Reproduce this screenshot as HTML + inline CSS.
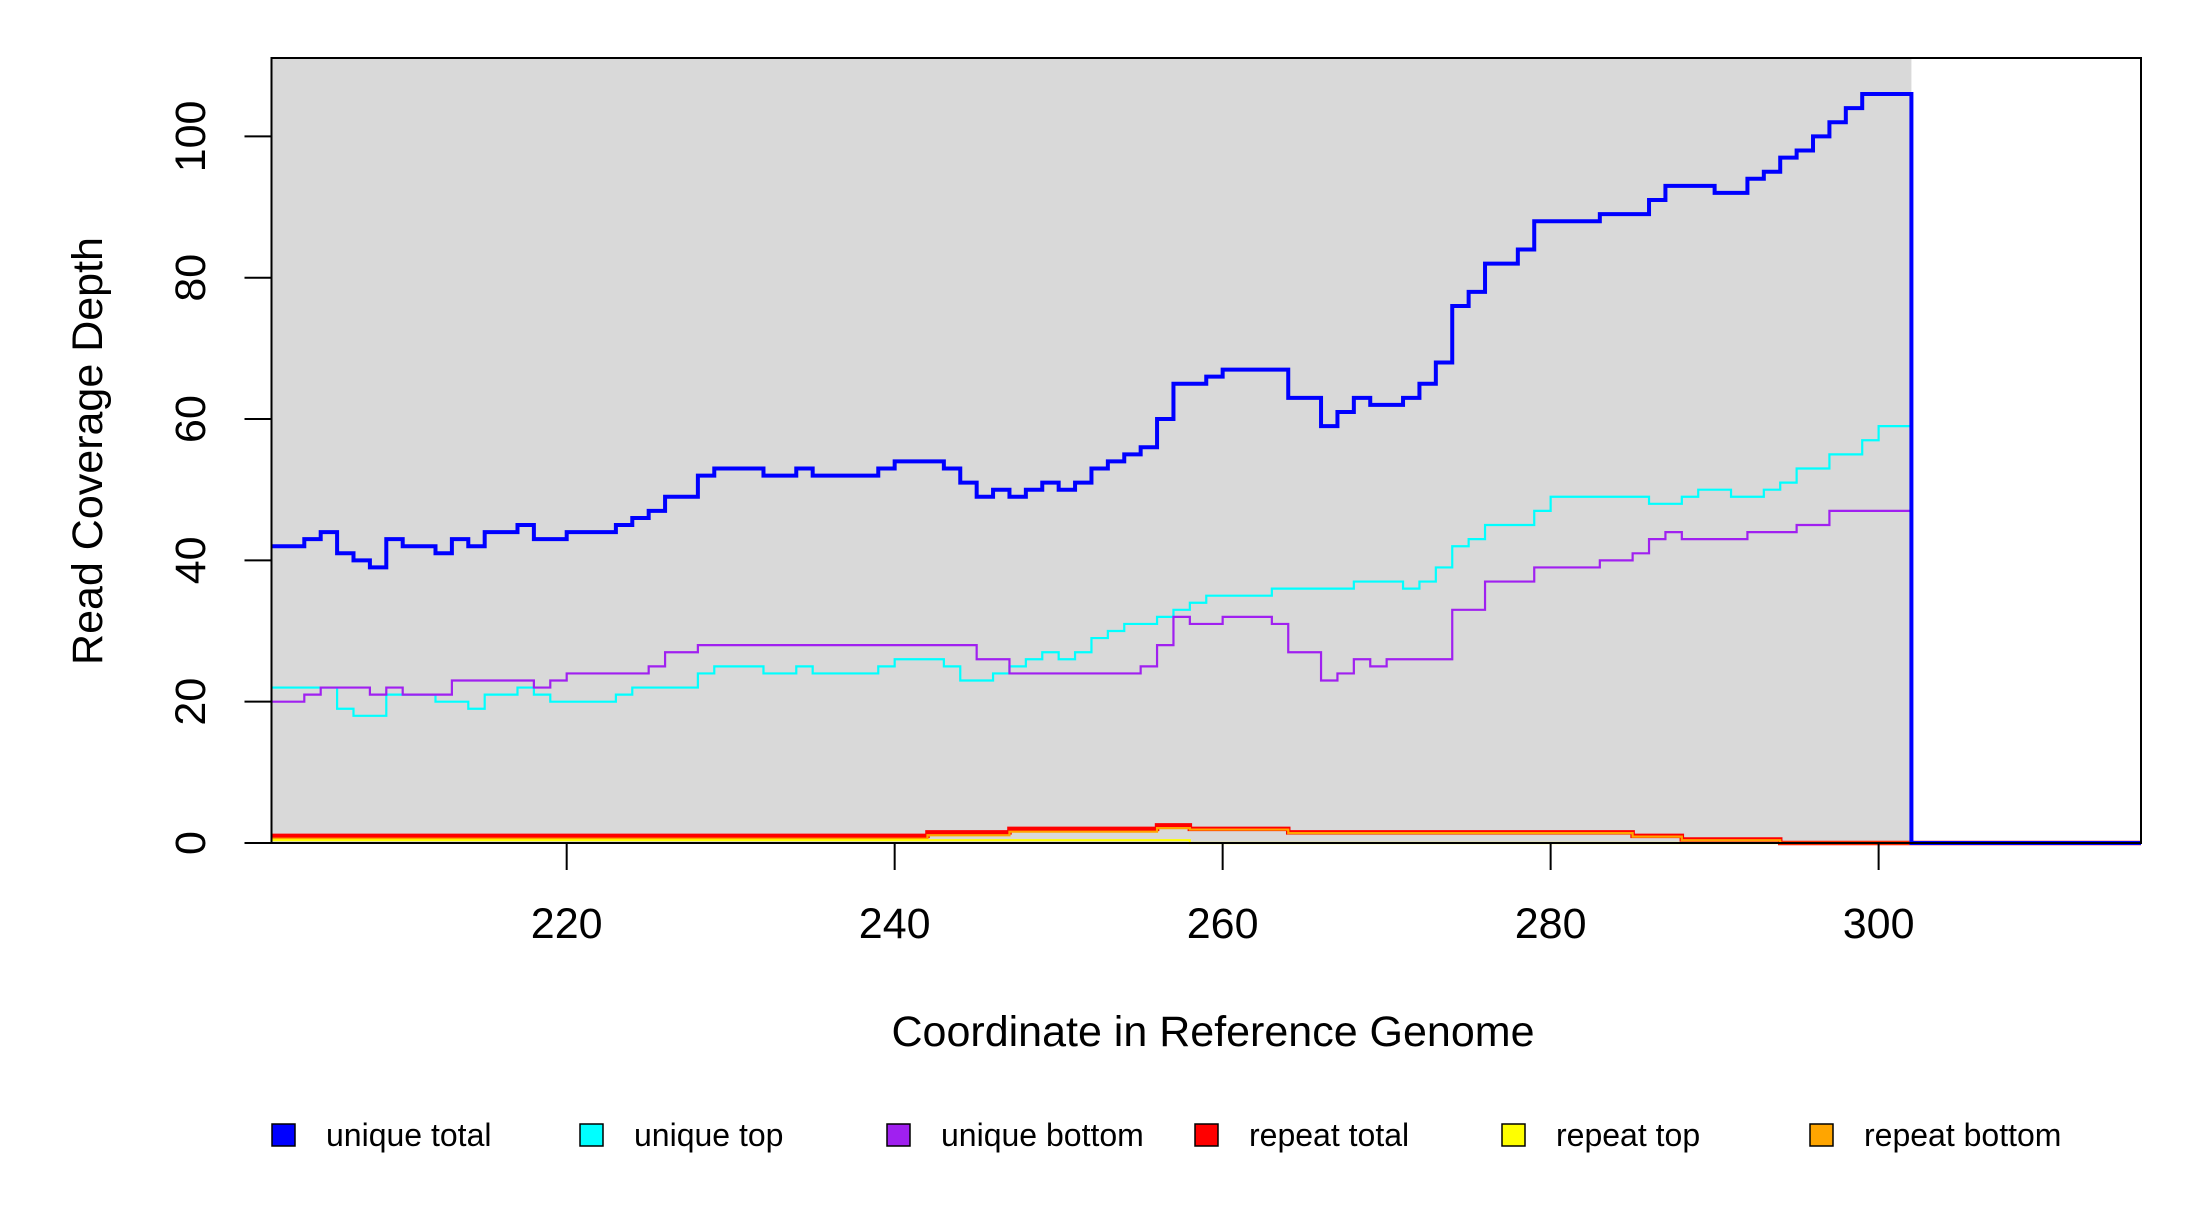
<!DOCTYPE html>
<html><head><meta charset="utf-8"><style>
html,body{margin:0;padding:0;background:#fff;}
svg text{font-family:"Liberation Sans",Arial,sans-serif;fill:#000;}
</style></head><body>
<svg width="2200" height="1200" viewBox="0 0 2200 1200" xmlns="http://www.w3.org/2000/svg">
<g id="plot"></g>
</svg>
<script>
const startX = 202;
const endX = 302;
const xTicks = [220, 240, 260, 280, 300];
const yTicks = [0, 20, 40, 60, 80, 100];
const uniqueTotal = [42,42,43,44,41,40,39,43,42,42,41,43,42,44,44,45,43,43,44,44,44,45,46,47,49,49,52,53,53,53,52,52,53,52,52,52,52,53,54,54,54,53,51,49,50,49,50,51,50,51,53,54,55,56,60,65,65,66,67,67,67,67,63,63,59,61,63,62,62,63,65,68,76,78,82,82,84,88,88,88,88,89,89,89,91,93,93,93,92,92,94,95,97,98,100,102,104,106,106,106];
const uniqueTop = [22,22,22,22,19,18,18,21,21,21,20,20,19,21,21,22,21,20,20,20,20,21,22,22,22,22,24,25,25,25,24,24,25,24,24,24,24,25,26,26,26,25,23,23,24,25,26,27,26,27,29,30,31,31,32,33,34,35,35,35,35,36,36,36,36,36,37,37,37,36,37,39,42,43,45,45,45,47,49,49,49,49,49,49,48,48,49,50,50,49,49,50,51,53,53,55,55,57,59,59,59];
const uniqueBottom = [20,20,21,22,22,22,21,22,21,21,21,23,23,23,23,23,22,23,24,24,24,24,24,25,27,27,28,28,28,28,28,28,28,28,28,28,28,28,28,28,28,28,28,26,26,24,24,24,24,24,24,24,24,25,28,32,31,31,32,32,32,31,27,27,23,24,26,25,26,26,26,26,33,33,37,37,37,39,39,39,39,40,40,41,43,44,43,43,43,43,44,44,44,45,45,47,47,47,47,47];
const repeatTotal = [1,1,1,1,1,1,1,1,1,1,1,1,1,1,1,1,1,1,1,1,1,1,1,1,1,1,1,1,1,1,1,1,1,1,1,1,1,1,1,1,1.5,1.5,1.5,1.5,1.5,2,2,2,2,2,2,2,2,2,2.5,2.5,2,2,2,2,2,2,1.5,1.5,1.5,1.5,1.5,1.5,1.5,1.5,1.5,1.5,1.5,1.5,1.5,1.5,1.5,1.5,1.5,1.5,1.5,1.5,1.5,1,1,1,0.5,0.5,0.5,0.5,0.5,0.5,0,0,0,0,0,0,0,0];
const repeatTop = [0.4,0.4,0.4,0.4,0.4,0.4,0.4,0.4,0.4,0.4,0.4,0.4,0.4,0.4,0.4,0.4,0.4,0.4,0.4,0.4,0.4,0.4,0.4,0.4,0.4,0.4,0.4,0.4,0.4,0.4,0.4,0.4,0.4,0.4,0.4,0.4,0.4,0.4,0.4,0.4,0.4,0.4,0.4,0.4,0.4,0.4,0.4,0.4,0.4,0.4,0.4,0.4,0.4,0.4,0.4,0.4,0,0,0,0,0,0,0,0,0,0,0,0,0,0,0,0,0,0,0,0,0,0,0,0,0,0,0,0,0,0,0,0,0,0,0,0,0,0,0,0,0,0,0,0];
const repeatBottom = [0.6,0.6,0.6,0.6,0.6,0.6,0.6,0.6,0.6,0.6,0.6,0.6,0.6,0.6,0.6,0.6,0.6,0.6,0.6,0.6,0.6,0.6,0.6,0.6,0.6,0.6,0.6,0.6,0.6,0.6,0.6,0.6,0.6,0.6,0.6,0.6,0.6,0.6,0.6,0.6,1.1,1.1,1.1,1.1,1.1,1.6,1.6,1.6,1.6,1.6,1.6,1.6,1.6,1.6,2.1,2.1,1.9,1.9,1.9,1.9,1.9,1.9,1.4,1.4,1.4,1.4,1.4,1.4,1.4,1.4,1.4,1.4,1.4,1.4,1.4,1.4,1.4,1.4,1.4,1.4,1.4,1.4,1.4,0.9,0.9,0.9,0.4,0.4,0.4,0.4,0.4,0.4,0,0,0,0,0,0,0,0];
const seriesNames = ["unique total","unique top","unique bottom","repeat total","repeat top","repeat bottom"];

const NS = "http://www.w3.org/2000/svg";
const L = 271.5, R = 2141, T = 58, B = 843;
const xMin = 202, xMax = 316, yMax = (B - T) / 7.066;
const xs = v => L + (v - xMin) / (xMax - xMin) * (R - L);
const ys = v => B - v / yMax * (B - T);
const g = document.getElementById('plot');
function mk(tag, attrs, parent) {
  const e = document.createElementNS(NS, tag);
  for (const k in attrs) e.setAttribute(k, attrs[k]);
  (parent || g).appendChild(e);
  return e;
}
const bg = mk('rect', {x: xs(startX), y: T, width: xs(endX) - xs(startX), height: B - T, fill: '#d9d9d9'});



function stepPath(vals) {
  let d = 'M' + xs(startX) + ',' + ys(vals[0]);
  for (let i = 0; i < vals.length; i++) {
    if (i > 0) d += 'V' + ys(vals[i]);
    d += 'H' + xs(startX + i + 1);
  }
  d += 'V' + ys(0) + 'H' + xs(xMax);
  return d;
}
const series = [
  {v: repeatTotal, c: '#ff0000', w: 4.5, n: 'line-repeat-total'},
  {v: repeatBottom, c: '#ffa500', w: 2.2, n: 'line-repeat-bottom'},
  {v: repeatTop, c: '#ffff00', w: 2.2, n: 'line-repeat-top'},
  {v: uniqueTop, c: '#00ffff', w: 2.2, n: 'line-unique-top'},
  {v: uniqueBottom, c: '#a020f0', w: 2.2, n: 'line-unique-bottom'},
  {v: uniqueTotal, c: '#0000ff', w: 4, n: 'line-unique-total'}
];
series.forEach(s => {
  const p = mk('path', {d: stepPath(s.v.slice(0, endX - startX)), fill: 'none', stroke: s.c, 'stroke-width': s.w});
  
  
});
const box = mk('rect', {x: L, y: T, width: R - L, height: B - T, fill: 'none', stroke: '#000', 'stroke-width': 2});


xTicks.forEach(t => {
  const ln = mk('line', {x1: xs(t), x2: xs(t), y1: B, y2: B + 27, stroke: '#000', 'stroke-width': 2});
  
  
  const tx = mk('text', {x: xs(t), y: 938, 'font-size': 43, 'text-anchor': 'middle'});
  tx.textContent = t;
  
  
});
yTicks.forEach(t => {
  const ln = mk('line', {x1: L - 27, x2: L, y1: ys(t), y2: ys(t), stroke: '#000', 'stroke-width': 2});
  
  
  const tx = mk('text', {x: 0, y: 0, 'font-size': 43, 'text-anchor': 'middle', transform: 'translate(205,' + ys(t) + ') rotate(-90)'});
  tx.textContent = t;
  
  
});
const xt = mk('text', {x: 1213, y: 1046, 'font-size': 43, 'text-anchor': 'middle'});
xt.textContent = 'Coordinate in Reference Genome';


const yt = mk('text', {x: 0, y: 0, 'font-size': 43, 'text-anchor': 'middle', transform: 'translate(102,451) rotate(-90)'});
yt.textContent = 'Read Coverage Depth';


const legendColors = ['#0000ff','#00ffff','#a020f0','#ff0000','#ffff00','#ffa500'];
const legendX = [272, 580, 887, 1195, 1502, 1810];
seriesNames.forEach((n, i) => {
  const lg = mk('g', {});
  
  
  mk('rect', {x: legendX[i], y: 1124, width: 23, height: 22, fill: legendColors[i], stroke: '#000', 'stroke-width': 1.5}, lg);
  const tx = mk('text', {x: legendX[i] + 54, y: 1146, 'font-size': 32}, lg);
  tx.textContent = n;
});
</script>
</body></html>
